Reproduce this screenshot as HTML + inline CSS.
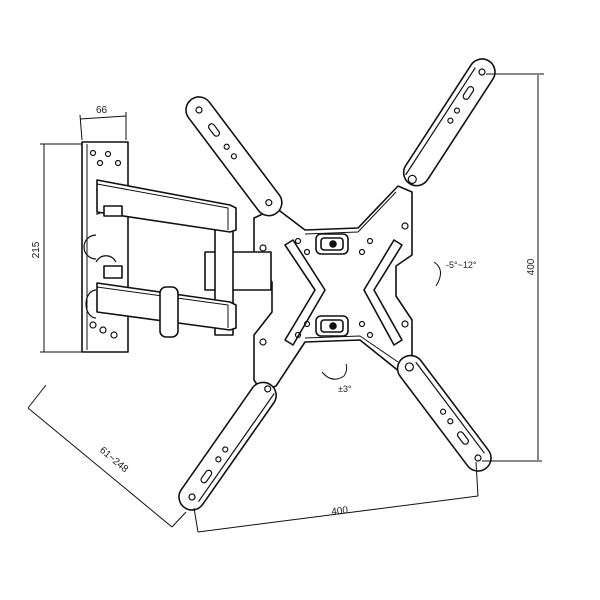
<!DOCTYPE html>
<html><head><meta charset="utf-8"><style>
html,body{margin:0;padding:0;background:#fff;width:600px;height:600px;overflow:hidden}
svg{display:block}
text{font-family:"Liberation Sans",sans-serif;fill:#222}
</style></head><body>
<svg width="600" height="600" viewBox="0 0 600 600" xmlns="http://www.w3.org/2000/svg">
<g fill="none" stroke="#111" stroke-width="1.6" stroke-linejoin="round">
<!-- central plate -->
<path d="M276,208 L305,230 L358,228 L398,186 L412,192 L412,255 L396,266 L396,296 L412,320 L412,366 L400,372 L360,340 L305,342 L276,386 L262,392 L254,380 L254,335 L272,312 L272,282 L254,260 L254,218 Z" fill="#fff"/>
<path d="M305,234 L358,232 L396,192" stroke-width="1"/>
<path d="M305,338 L360,336 L398,362" stroke-width="1"/>
<path d="M285,245 L293,240 L325,290 L293,345 L285,340 L315,290 Z"/>
<path d="M402,245 L394,240 L364,290 L394,345 L402,340 L374,290 Z"/>
<rect x="316" y="234" width="32" height="20" rx="5"/>
<rect x="321" y="238" width="22" height="12" rx="3"/>
<circle cx="333" cy="244" r="3" fill="#111"/>
<rect x="316" y="316" width="32" height="20" rx="5"/>
<rect x="321" y="320" width="22" height="12" rx="3"/>
<circle cx="333" cy="326" r="3" fill="#111"/>
<g stroke-width="1.2">
<circle cx="298" cy="241" r="2.5"/><circle cx="307" cy="252" r="2.5"/><circle cx="370" cy="241" r="2.5"/><circle cx="362" cy="252" r="2.5"/>
<circle cx="298" cy="335" r="2.5"/><circle cx="307" cy="324" r="2.5"/><circle cx="370" cy="335" r="2.5"/><circle cx="362" cy="324" r="2.5"/>
<circle cx="263" cy="248" r="3"/><circle cx="263" cy="342" r="3"/><circle cx="405" cy="226" r="3"/><circle cx="405" cy="324" r="3"/>
</g>
<g fill="#fff">
<rect x="-13" y="-13" width="142" height="26" rx="13" transform="translate(199,110) rotate(53)"/>
<rect x="-13" y="-13" width="146" height="26" rx="13" transform="translate(482,72) rotate(123)"/>
<rect x="-13" y="-13" width="150" height="26" rx="13" transform="translate(192,497) rotate(-55)"/>
<rect x="-13" y="-13" width="138" height="26" rx="13" transform="translate(478,458) rotate(-127)"/>
</g>
<g transform="translate(199,110) rotate(53)" stroke-width="1.2"><circle cx="0" cy="0" r="3"/><rect x="18" y="-3" width="14" height="6" rx="3"/><circle cx="46" cy="0" r="2.5"/><circle cx="58" cy="0" r="2.5"/><circle cx="116" cy="0" r="3"/></g>
<g transform="translate(482,72) rotate(123)" stroke-width="1.2"><circle cx="0" cy="0" r="3"/><rect x="18" y="-3" width="14" height="6" rx="3"/><circle cx="46" cy="0" r="2.5"/><circle cx="58" cy="0" r="2.5"/><circle cx="128" cy="0" r="4"/><line x1="0" y1="8" x2="128" y2="8"/></g>
<g transform="translate(192,497) rotate(-55)" stroke-width="1.2"><circle cx="0" cy="0" r="3"/><rect x="18" y="-3" width="14" height="6" rx="3"/><circle cx="46" cy="0" r="2.5"/><circle cx="58" cy="0" r="2.5"/><circle cx="132" cy="0" r="3"/><line x1="0" y1="8" x2="132" y2="8"/></g>
<g transform="translate(478,458) rotate(-127)" stroke-width="1.2"><circle cx="0" cy="0" r="3"/><rect x="18" y="-3" width="14" height="6" rx="3"/><circle cx="46" cy="0" r="2.5"/><circle cx="58" cy="0" r="2.5"/><circle cx="114" cy="0" r="4"/><line x1="0" y1="8" x2="114" y2="8"/></g>
<!-- wall plate -->
<rect x="82" y="142" width="46" height="210" fill="#fff"/>
<line x1="87" y1="144" x2="87" y2="350" stroke-width="1"/>
<g stroke-width="1.2"><circle cx="93" cy="153" r="2.5"/><circle cx="108" cy="154" r="2.5"/><circle cx="100" cy="163" r="2.5"/><circle cx="118" cy="163" r="2.5"/>
<circle cx="93" cy="325" r="3"/><circle cx="103" cy="330" r="3"/><circle cx="114" cy="335" r="3"/></g>
<path d="M96,190 a10,12 0 0 1 0,24 M96,235 a12,12 0 0 0 0,24 M96,262 a12,14 0 0 1 20,0 M96,290 a10,14 0 0 0 0,28" stroke-width="1.2"/>
<rect x="205" y="252" width="66" height="38" fill="#fff"/>
<rect x="215" y="225" width="18" height="110" fill="#fff"/>
<path d="M97,180 L230,205 L236,208 L236,230 L230,232 L97,212 Z" fill="#fff"/>
<path d="M97,184 L228,208 L228,230" stroke-width="1"/>
<path d="M97,283 L230,302 L236,305 L236,328 L230,330 L97,312 Z" fill="#fff"/>
<path d="M97,287 L228,305 L228,328" stroke-width="1"/>
<rect x="160" y="287" width="18" height="50" rx="6" fill="#fff"/>
<rect x="104" y="266" width="18" height="12" fill="#fff"/>
<rect x="104" y="206" width="18" height="10" fill="#fff"/>
</g>
<g stroke="#111" stroke-width="1" fill="none">
<line x1="82" y1="140" x2="80" y2="115"/><line x1="126" y1="140" x2="126" y2="112"/><line x1="80" y1="119" x2="126" y2="116"/>
<line x1="40" y1="144" x2="82" y2="144"/><line x1="40" y1="352" x2="82" y2="352"/><line x1="44" y1="144" x2="44" y2="352"/>
<line x1="28" y1="408" x2="172" y2="527"/><line x1="28" y1="408" x2="46" y2="385"/><line x1="172" y1="527" x2="186" y2="512"/>
<line x1="198" y1="532" x2="478" y2="496"/><line x1="198" y1="532" x2="194" y2="508"/><line x1="478" y1="496" x2="476" y2="462"/>
<line x1="538" y1="75" x2="538" y2="460"/><line x1="486" y1="74" x2="544" y2="74"/><line x1="482" y1="461" x2="542" y2="461"/>
<path d="M434,262 q12,8 2,24"/><path d="M322,372 q10,12 22,4 q4,-6 2,-12"/>
</g>
<text x="96" y="113" font-size="10">66</text>
<text transform="translate(39,250) rotate(-90)" font-size="10" text-anchor="middle">215</text>
<text transform="translate(112,462) rotate(40)" font-size="10" text-anchor="middle">61~248</text>
<text transform="translate(340,514) rotate(-7)" font-size="10" text-anchor="middle">400</text>
<text transform="translate(534,267) rotate(-90)" font-size="10" text-anchor="middle">400</text>
<text x="446" y="268" font-size="9">-5°~12°</text>
<text x="338" y="392" font-size="9">±3°</text>
</svg>
</body></html>
